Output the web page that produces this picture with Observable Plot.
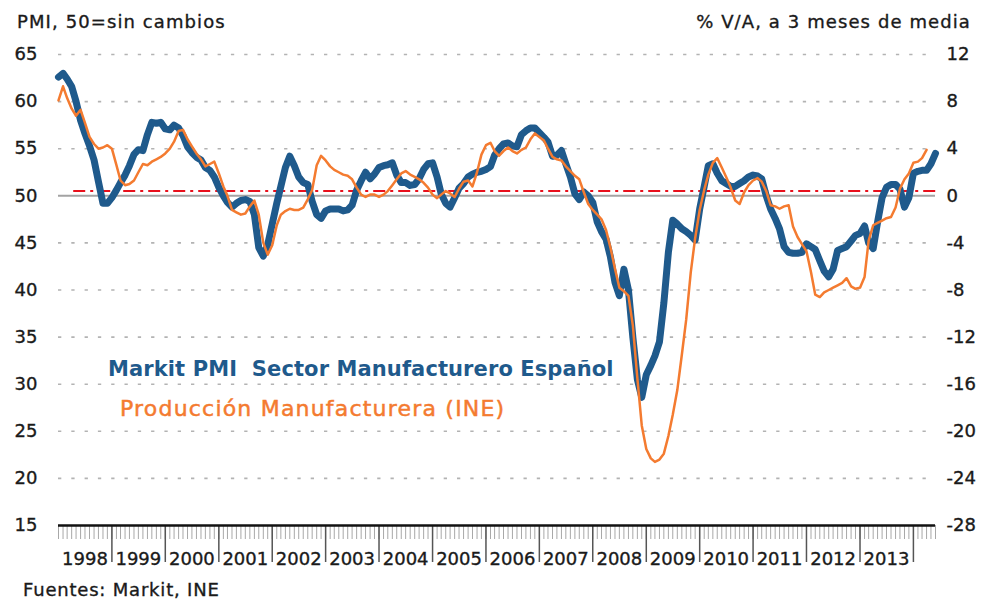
<!DOCTYPE html>
<html>
<head>
<meta charset="utf-8">
<script src="https://cdn.jsdelivr.net/npm/d3@7"></script>
<script src="https://cdn.jsdelivr.net/npm/@observablehq/plot@0.6"></script>
<style>
  html, body { margin: 0; padding: 0; background: #fff; }
  #wrap { position: relative; width: 994px; height: 600px; overflow: hidden; font-family: "DejaVu Sans", sans-serif; color: #1a1a1a; }
  #wrap svg { position: absolute; left: 0; top: 0; }
  #wrap svg text { stroke: #1a1a1a; stroke-width: 0.35px; }
  .t { position: absolute; white-space: nowrap; font-size: 18px; line-height: 18px; letter-spacing: 1.1px; -webkit-text-stroke: 0.35px currentColor; }
</style>
</head>
<body>
<div id="wrap">
  <div class="t" style="left:17px; top:13px;">PMI, 50=sin cambios</div>
  <div class="t" style="right:23px; top:13px; text-align:right;">% V/A, a 3 meses de media</div>
  <div class="t" style="left:23px; top:581px; letter-spacing:0.8px;">Fuentes: Markit, INE</div>
  <div class="t" style="left:108px; top:359px; font-size:21px; line-height:21px; font-weight:bold; color:#1f5a8c; letter-spacing:0.1px; -webkit-text-stroke:0;">Markit PMI&nbsp; Sector Manufacturero Español</div>
  <div class="t" style="left:120px; top:398px; font-size:22px; line-height:22px; color:#f47b30; letter-spacing:1.2px; -webkit-text-stroke:0.5px #f47b30;">Producción Manufacturera (INE)</div>
</div>
<script>
// Monthly series, first month January 1998
const startYear = 1998;
// Markit PMI Sector Manufacturero (left axis), Jan 1998 – Jun 2014
const pmi = [
  62.6,63.0,62.4,61.6,60.0,58.0,56.6,55.3,53.8,51.5,49.2,49.2,
  49.8,50.6,51.4,52.2,53.2,54.4,54.9,54.8,56.5,57.8,57.7,57.8,
  57.1,57.0,57.5,57.2,56.4,55.2,54.6,54.1,53.8,53.0,52.7,52.0,
  50.9,50.0,49.3,48.8,49.2,49.5,49.6,49.4,48.0,44.5,43.6,44.8,
  47.0,49.2,51.0,53.0,54.2,53.2,52.0,51.4,51.2,49.4,48.0,47.6,
  48.4,48.6,48.6,48.6,48.4,48.5,49.0,50.6,51.6,52.5,51.8,52.3,
  53.0,53.2,53.3,53.5,52.2,51.4,51.4,51.1,51.2,51.8,52.8,53.4,
  53.5,52.0,50.2,49.2,48.8,49.8,50.8,51.3,52.0,52.3,52.5,52.6,
  52.8,53.1,54.3,55.0,55.5,55.6,55.3,55.2,56.5,56.9,57.2,57.2,
  56.7,56.2,55.7,54.2,54.3,54.8,53.4,52.0,50.2,49.6,50.4,50.0,
  49.3,47.2,46.2,45.4,43.5,40.8,39.4,42.2,40.0,35.0,30.5,28.6,
  31.0,32.0,33.0,34.5,38.6,44.0,47.4,47.0,46.5,46.2,45.8,45.3,
  48.6,51.0,53.2,53.4,52.4,51.6,51.3,51.0,51.0,51.3,51.6,52.0,
  52.2,52.1,51.8,50.0,48.6,47.6,46.5,44.6,44.0,43.9,43.9,44.0,
  44.9,44.6,44.3,43.1,42.0,41.4,42.2,44.2,44.4,44.6,45.2,45.8,
  46.0,46.8,45.0,44.4,47.2,49.8,50.9,51.2,51.2,50.7,48.8,49.8,
  52.4,52.6,52.7,52.7,53.4,54.5
];
// Producción Manufacturera INE, % a/a media 3 meses (right axis), Jan 1998 – Apr 2014
const ine = [
  8.1,9.3,8.3,7.4,6.8,7.3,6.2,5.0,4.4,4.0,4.1,4.3,
  4.0,2.6,1.3,0.9,1.0,1.3,2.0,2.7,2.6,2.9,3.1,3.3,
  3.6,4.0,4.6,5.5,5.6,4.8,4.2,3.6,3.1,2.5,2.7,2.9,
  1.9,0.8,0.0,-1.2,-1.4,-1.6,-1.5,-0.9,-0.4,-1.6,-4.0,-5.0,
  -4.2,-2.5,-1.6,-1.3,-1.1,-1.2,-1.2,-1.0,-0.3,0.5,2.6,3.4,
  3.0,2.5,2.2,2.0,1.8,1.7,1.4,0.7,0.1,-0.1,0.1,0.1,
  -0.1,0.1,0.4,0.9,1.4,1.9,2.1,1.8,1.6,1.4,1.1,0.7,
  0.1,-0.2,0.1,0.4,0.2,-0.1,0.6,1.2,1.3,0.8,2.0,3.5,
  4.3,4.5,3.8,3.4,3.8,4.1,3.8,3.6,3.9,4.1,4.8,5.3,
  5.0,4.7,4.0,3.3,3.1,3.0,2.5,2.1,1.7,1.4,0.3,-0.7,
  -1.2,-1.6,-2.0,-2.9,-4.4,-6.2,-7.8,-8.1,-8.5,-11.0,-15.5,-19.5,
  -21.5,-22.3,-22.6,-22.4,-21.9,-20.4,-18.6,-16.5,-13.5,-10.5,-6.5,-3.6,
  -1.2,0.5,1.8,2.8,3.2,2.4,1.6,0.7,-0.4,-0.7,0.3,0.9,
  1.3,1.5,1.2,0.4,-0.8,-0.9,-1.1,-0.9,-0.8,-2.6,-3.5,-4.1,
  -4.7,-6.5,-8.4,-8.6,-8.2,-8.0,-7.8,-7.6,-7.4,-7.0,-7.7,-7.9,
  -7.8,-6.9,-3.8,-2.5,-2.3,-2.1,-1.9,-1.8,-1.0,0.6,1.4,1.9,
  2.8,2.9,3.2,3.9
];
const leftTicks = [15,20,25,30,35,40,45,50,55,60,65];
const gridTicks = [20,25,30,35,40,45,55,60,65];
const rightTicks = [-28,-24,-20,-16,-12,-8,-4,0,4,8,12];
const yearLabels = [1998,1999,2000,2001,2002,2003,2004,2005,2006,2007,2008,2009,2010,2011,2012,2013];
const yearBreaks = [1999,2000,2001,2002,2003,2004,2005,2006,2007,2008,2009,2010,2011,2012,2013,2014];
const refLineRight = 0.4; // red dash-dot reference level (right axis units)

// right axis: 50 on the left equals 0 on the right; 4 points right = 5 points left
const toLeft = r => 50 + r * 1.25;
const monthDate = i => new Date(Date.UTC(startYear, i, 1));

const pmiData = pmi.map((v, i) => ({date: monthDate(i), v}));
const ineData = ine.map((v, i) => ({date: monthDate(i), v: toLeft(v)}));
const allMonths = d3.utcMonth.range(monthDate(0), monthDate(pmi.length));
const midYears = yearLabels.map(y => new Date(Date.UTC(y, 6, 1)));
const yearStarts = yearBreaks.map(y => new Date(Date.UTC(y, 0, 1)));

const chart = Plot.plot({
  width: 994,
  height: 600,
  marginLeft: 58,
  marginRight: 59,
  marginTop: 54,
  marginBottom: 75,
  style: {fontFamily: "DejaVu Sans, sans-serif", fontSize: "18px", color: "#1a1a1a", background: "transparent", overflow: "visible"},
  x: {type: "utc", domain: [monthDate(0), monthDate(pmi.length - 1)], label: null},
  y: {domain: [15, 65], label: null},
  marks: [
    Plot.ruleY(gridTicks, {stroke: "#b3b3b3", strokeWidth: 1.6, strokeDasharray: "3.3,10"}),
    Plot.ruleY([50], {stroke: "#a3a3a3", strokeWidth: 2}),
    Plot.ruleY([toLeft(refLineRight)], {x1: new Date(Date.UTC(1998, 3, 15)), x2: new Date(Date.UTC(2014, 6, 1)), stroke: "#e8101c", strokeWidth: 2, strokeDasharray: "12,5,3,5"}),
    Plot.line(pmiData, {x: "date", y: "v", stroke: "#1f5a8c", strokeWidth: 7, strokeLinejoin: "round", strokeLinecap: "round"}),
    Plot.line(ineData, {x: "date", y: "v", stroke: "#f47b30", strokeWidth: 2.5, strokeLinejoin: "round"}),
    Plot.axisX({ticks: allMonths, tickSize: 14, tickFormat: () => "", stroke: "#a8a8a8", strokeWidth: 1}),
    Plot.axisX({ticks: yearStarts, tickSize: 37, tickFormat: () => "", stroke: "#555", strokeWidth: 1.5}),
    Plot.axisX({ticks: midYears, tickSize: 0, tickPadding: 27, tickFormat: d3.utcFormat("%Y"), fill: "#1a1a1a"}),
    Plot.ruleY([15], {stroke: "#111", strokeWidth: 2.5}),
    Plot.axisY({anchor: "left", ticks: leftTicks, tickSize: 0, tickPadding: 21, label: null, fill: "#1a1a1a"}),
    Plot.axisY({anchor: "right", ticks: rightTicks.map(toLeft), tickSize: 0, tickPadding: 11, textAnchor: "start", label: null, fill: "#1a1a1a", tickFormat: d => String(Math.round((d - 50) * 0.8))})
  ]
});
document.getElementById("wrap").prepend(chart);
</script>
</body>
</html>
